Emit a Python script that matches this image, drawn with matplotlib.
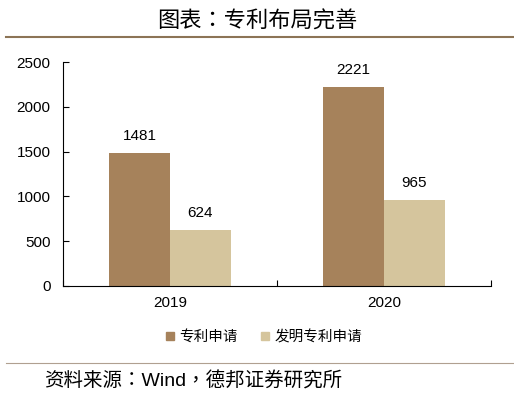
import numpy as np
import matplotlib.pyplot as plt
from matplotlib.lines import Line2D

plt.rcParams['font.family'] = ['Liberation Sans', 'Noto Sans CJK SC', 'DejaVu Sans']

years = ['2019', '2020']
patent_apps = [1481, 2221]
invention_apps = [624, 965]
series_names = ['专利申请', '发明专利申请']
colors = ['#A6825B', '#D5C59D']

fig = plt.figure(figsize=(5.14, 3.97), dpi=100)
ax = fig.add_axes([0.1226, 0.2796, 0.8326, 0.5642])

x = np.arange(len(years))
w = 0.285
b1 = ax.bar(x - w / 2, patent_apps, w, color=colors[0])
b2 = ax.bar(x + w / 2, invention_apps, w, color=colors[1])

for bars, vals in [(b1, patent_apps), (b2, invention_apps)]:
    for r, v in zip(bars, vals):
        ax.text(r.get_x() + r.get_width() / 2, v + 110, str(v),
                ha='center', va='bottom', fontsize=11)

ax.set_xlim(-0.5, 1.5)
ax.set_ylim(0, 2500)
ax.set_yticks(range(0, 2501, 500))
ax.set_xticks(x)
ax.set_xticklabels(years)
ax.set_xticks([-0.5, 0.5, 1.5], minor=True)
ax.tick_params(axis='x', which='major', length=0, pad=7, labelsize=11)
ax.tick_params(axis='x', which='minor', direction='in', length=4, width=0.8)
ax.tick_params(axis='y', direction='in', length=4, width=0.8, labelsize=11, pad=9)
for s in ['top', 'right']:
    ax.spines[s].set_visible(False)
for s in ['left', 'bottom']:
    ax.spines[s].set_linewidth(0.8)

# legend
handles = [Line2D([], [], marker='s', linestyle='', markersize=5.5, color=c) for c in colors]
fig.legend(handles, series_names, loc='center',
           bbox_to_anchor=(0.512, 0.151), ncol=2, frameon=False,
           handlelength=0.8, handletextpad=0.2, columnspacing=1.5,
           prop={'family': ['Noto Sans CJK SC'], 'size': 10.5})

# title and rules
fig.text(0.5, 0.948, '图表：专利布局完善', ha='center', va='center',
         fontsize=16, family=['Noto Sans CJK TC', 'DejaVu Sans'])
fig.add_artist(Line2D([0.012, 1.0], [0.907, 0.907], color='#8C7456', linewidth=1.5))
fig.add_artist(Line2D([0.012, 1.0], [0.086, 0.086], color='#B0A090', linewidth=0.8))
fig.text(0.086, 0.04, '资料来源：Wind，德邦证券研究所', ha='left', va='center',
         fontsize=14, family=['Liberation Sans', 'Noto Sans CJK TC', 'DejaVu Sans'])

fig.savefig('out.png', dpi=100)
